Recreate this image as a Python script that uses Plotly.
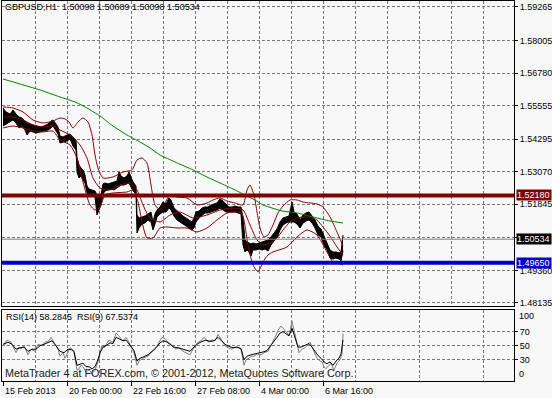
import plotly.graph_objects as go

# ---------------- data ----------------
tick_labels = ["15 Feb 2013", "20 Feb 00:00", "22 Feb 16:00", "27 Feb 08:00", "4 Mar 00:00", "6 Mar 16:00"]
tick_bars = [0, 64, 128, 192, 256, 320]

price_ticks = [1.59265, 1.58005, 1.56780, 1.55555, 1.54295, 1.53070, 1.51845, 1.50585, 1.49360, 1.48135]
price_tick_text = ["1.59265", "1.58005", "1.56780", "1.55555", "1.54295", "1.53070", "1.51845", "", "1.49360", "1.48135"]

rsi_ticks = [70, 50, 30]

# price bars (bar index, high, low)
bar_idx = [0, 3, 7, 10, 13, 16, 19, 22, 24, 27, 30, 33, 37, 41, 45, 48, 50, 53, 55, 57,
           60, 64, 67, 70, 73, 74, 76, 78, 80, 82, 84, 86, 89, 92, 94, 96, 98, 100, 102, 105,
           108, 111, 114, 116, 118, 121, 124, 126, 128, 130, 133, 134, 136, 139, 142, 145, 148, 150, 152, 154,
           157, 160, 163, 166, 168, 171, 174, 177, 180, 183, 186, 189, 191, 193, 196, 199, 202, 205, 208, 211,
           214, 217, 220, 223, 226, 229, 232, 235, 238, 240, 242, 244, 246, 248, 250, 253, 256, 259, 262, 265,
           268, 271, 274, 277, 280, 283, 286, 289, 291, 294, 297, 300, 303, 306, 309, 312, 315, 318, 321, 324,
           327, 330, 333, 336, 338, 340]
bar_high = [1.55467, 1.55317, 1.55242, 1.55392, 1.55242, 1.55129, 1.55091, 1.54978, 1.54903, 1.54866,
            1.54828, 1.54790, 1.54753, 1.54790, 1.54866, 1.54978, 1.55016, 1.54866, 1.54753, 1.54414,
            1.54377, 1.54452, 1.54490, 1.54377, 1.54264, 1.53587, 1.53324, 1.53211, 1.53136, 1.52948,
            1.52534, 1.52422, 1.52384, 1.52346, 1.52196, 1.52083, 1.52196, 1.52610, 1.52647, 1.52610,
            1.52647, 1.52685, 1.52722, 1.53061, 1.52910, 1.52835, 1.52910, 1.53061, 1.52835, 1.52685,
            1.52534, 1.51444, 1.51331, 1.51369, 1.51406, 1.51482, 1.51557, 1.51181, 1.51482, 1.51632,
            1.51745, 1.51933, 1.51858, 1.52083, 1.52008, 1.51707, 1.51594, 1.51519, 1.51406, 1.51331,
            1.51256, 1.51181, 1.51331, 1.51557, 1.51594, 1.51707, 1.51745, 1.51745, 1.51820, 1.51858,
            1.51895, 1.52046, 1.51970, 1.51858, 1.51745, 1.51745, 1.51782, 1.51745, 1.51745, 1.51331,
            1.50504, 1.50429, 1.50391, 1.50354, 1.50391, 1.50354, 1.50391, 1.50429, 1.50466, 1.50504,
            1.50617, 1.50767, 1.50918, 1.51181, 1.51331, 1.51369, 1.51406, 1.51933, 1.51557, 1.51482,
            1.51256, 1.51444, 1.51519, 1.51557, 1.51406, 1.51256, 1.51030, 1.50918, 1.50654, 1.50391,
            1.50128, 1.50053, 1.50053, 1.50015, 1.50053, 1.50689]
bar_low = [1.54790, 1.54866, 1.54941, 1.55016, 1.54903, 1.54715, 1.54790, 1.54640, 1.54452, 1.54602,
           1.54565, 1.54527, 1.54565, 1.54602, 1.54640, 1.54715, 1.54790, 1.54602, 1.54490, 1.54151,
           1.54189, 1.54226, 1.54302, 1.54038, 1.53888, 1.53061, 1.52835, 1.52910, 1.52760, 1.52647,
           1.52271, 1.52196, 1.52158, 1.52121, 1.51444, 1.51632, 1.51820, 1.52234, 1.52346, 1.52384,
           1.52422, 1.52384, 1.52459, 1.52534, 1.52572, 1.52572, 1.52610, 1.52647, 1.52497, 1.52346,
           1.52234, 1.50767, 1.50955, 1.51106, 1.51143, 1.51256, 1.51181, 1.50880, 1.51106, 1.51369,
           1.51482, 1.51557, 1.51557, 1.51707, 1.51632, 1.51406, 1.51256, 1.51181, 1.51106, 1.51030,
           1.50955, 1.50880, 1.50955, 1.51181, 1.51331, 1.51444, 1.51519, 1.51519, 1.51557, 1.51594,
           1.51632, 1.51707, 1.51632, 1.51557, 1.51557, 1.51557, 1.51557, 1.51519, 1.51482, 1.50316,
           1.50053, 1.50128, 1.50053, 1.49902, 1.50128, 1.50128, 1.50166, 1.50128, 1.50166, 1.50091,
           1.50316, 1.50466, 1.50579, 1.50880, 1.51068, 1.51143, 1.51181, 1.51181, 1.51181, 1.51106,
           1.50955, 1.51143, 1.51218, 1.51256, 1.51143, 1.50955, 1.50692, 1.50617, 1.50316, 1.50128,
           1.49827, 1.49790, 1.49827, 1.49790, 1.49714, 1.50098]

# Bollinger bands
bb_up_idx = [0, 10, 20, 30, 40, 50, 57, 62, 66, 70, 75, 80, 85, 89, 92, 95, 100, 110, 120, 129,
             134, 139, 144, 148, 152, 157, 162, 167, 174, 184, 194, 204, 210, 217, 224, 232, 240, 244, 247, 251,
             254, 257, 261, 265, 270, 275, 280, 287, 294, 300, 307, 314, 320, 327, 334, 340]
bb_up = [1.55505, 1.55467, 1.55317, 1.55016, 1.54903, 1.54978, 1.55091, 1.55054, 1.54941, 1.54715,
         1.54941, 1.55091, 1.54941, 1.54452, 1.53700, 1.53211, 1.52835, 1.52873, 1.53061, 1.53136,
         1.53512, 1.53587, 1.53399, 1.52572, 1.51820, 1.51632, 1.51895, 1.52196, 1.52121, 1.52083,
         1.51820, 1.51895, 1.52008, 1.52083, 1.51970, 1.51895, 1.51820, 1.52384, 1.52572, 1.52196,
         1.51557, 1.50955, 1.50617, 1.50692, 1.51068, 1.51519, 1.51782, 1.52008, 1.52008, 1.51933,
         1.51895, 1.51858, 1.51745, 1.51369, 1.50805, 1.50278]
bb_mid_idx = [0, 10, 20, 30, 40, 50, 57, 67, 77, 84, 90, 97, 107, 117, 127, 134, 140, 147, 157, 167,
              177, 190, 204, 217, 230, 240, 247, 254, 260, 267, 274, 280, 287, 294, 300, 307, 314, 320, 327, 334, 340]
bb_mid = [1.55129, 1.55129, 1.55016, 1.54828, 1.54753, 1.54790, 1.54640, 1.54452, 1.54076, 1.53587,
          1.52835, 1.52459, 1.52384, 1.52572, 1.52647, 1.52384, 1.51820, 1.51331, 1.51181, 1.51444,
          1.51557, 1.51331, 1.51444, 1.51632, 1.51707, 1.51632, 1.51068, 1.50504, 1.50316, 1.50391,
          1.50579, 1.50880, 1.51181, 1.51331, 1.51369, 1.51369, 1.51256, 1.50993, 1.50654, 1.50241, 1.49940]
bb_low_idx = [0, 10, 20, 30, 40, 50, 57, 67, 74, 80, 87, 92, 97, 102, 110, 124, 130, 135, 139, 144,
              150, 157, 164, 174, 184, 194, 204, 214, 224, 237, 240, 245, 250, 255, 260, 265, 270, 284, 294, 304,
              314, 324, 330, 337, 340]
bb_low = [1.54715, 1.54790, 1.54715, 1.54602, 1.54565, 1.54602, 1.54264, 1.54076, 1.53587, 1.52685,
          1.51820, 1.51632, 1.51745, 1.52196, 1.52271, 1.52309, 1.52384, 1.51933, 1.51181, 1.50579,
          1.50579, 1.50955, 1.50993, 1.50955, 1.50955, 1.50805, 1.50955, 1.51256, 1.51519, 1.51557,
          1.51406, 1.50316, 1.49564, 1.49301, 1.49677, 1.49940, 1.50053, 1.50241, 1.50617, 1.50880,
          1.50692, 1.50053, 1.49677, 1.49602, 1.49564]

# moving average (green)
ma_idx = [0, 17, 37, 57, 72, 84, 97, 110, 124, 137, 147, 157, 172, 190, 204, 217, 230, 242, 252, 260,
          269, 279, 294, 310, 327, 340]
ma_val = [1.56558, 1.56370, 1.56144, 1.55881, 1.55693, 1.55467, 1.55166, 1.54790, 1.54452, 1.54189,
          1.53963, 1.53700, 1.53437, 1.53136, 1.52873, 1.52647, 1.52422, 1.52196, 1.52008, 1.51820,
          1.51707, 1.51594, 1.51519, 1.51369, 1.51218, 1.51143]

# horizontal levels
resistance = 1.52180
support = 1.49650
last_close = 1.50534

# RSI(9) (grey)
rsi9_idx = [0, 4, 8, 11, 13, 16, 18, 21, 25, 28, 32, 35, 39, 42, 46, 48, 52, 55, 57, 60,
            62, 65, 67, 69, 71, 74, 76, 78, 80, 83, 86, 89, 92, 95, 97, 99, 101, 103, 106, 110,
            113, 115, 118, 120, 123, 126, 128, 131, 134, 136, 138, 141, 145, 148, 152, 155, 157, 159, 162, 165,
            168, 170, 173, 176, 180, 183, 187, 190, 192, 195, 198, 201, 205, 208, 212, 215, 217, 220, 222, 225,
            229, 232, 235, 238, 241, 243, 246, 248, 251, 254, 258, 261, 265, 268, 270, 273, 275, 278, 280, 283,
            286, 289, 291, 293, 296, 299, 302, 305, 307, 310, 312, 314, 317, 319, 321, 323, 326, 328, 331, 334,
            337, 339, 340]
rsi9 = [50, 58, 55, 45, 40, 48, 45, 50, 37, 45, 42, 52, 50, 55, 57, 62, 52, 45, 35, 40,
        32, 42, 47, 45, 40, 15, 17, 22, 20, 12, 16, 10, 15, 27, 40, 50, 47, 52, 58, 55,
        68, 65, 60, 57, 62, 55, 48, 40, 22, 28, 30, 33, 35, 40, 45, 52, 57, 62, 60, 55,
        52, 48, 45, 47, 42, 40, 37, 45, 50, 55, 57, 62, 55, 58, 57, 66, 62, 55, 50, 47,
        45, 48, 47, 45, 22, 30, 32, 35, 35, 38, 37, 40, 42, 50, 57, 65, 72, 78, 75, 70,
        65, 85, 70, 60, 40, 45, 47, 52, 55, 45, 38, 32, 28, 27, 20, 17, 22, 25, 15, 25,
        30, 38, 67.5]

# RSI(14) (black)
rsi14_idx = [0, 5, 9, 13, 17, 21, 25, 29, 33, 37, 41, 45, 49, 53, 57, 61, 65, 69, 71, 74,
             77, 80, 83, 86, 89, 92, 95, 97, 100, 103, 107, 110, 113, 116, 120, 123, 126, 129, 131, 134,
             137, 141, 145, 149, 153, 157, 160, 163, 167, 171, 175, 179, 183, 187, 191, 195, 199, 203, 207, 211,
             215, 218, 222, 226, 230, 234, 238, 241, 244, 248, 252, 256, 260, 264, 268, 271, 274, 277, 280, 283,
             286, 289, 292, 295, 298, 302, 306, 309, 312, 315, 318, 321, 324, 327, 330, 333, 336, 338, 340]
rsi14 = [52, 55, 52, 45, 47, 48, 42, 45, 45, 50, 52, 55, 57, 50, 42, 40, 45, 44, 42, 22,
         24, 25, 20, 20, 17, 20, 30, 40, 48, 50, 54, 53, 62, 60, 57, 58, 53, 47, 43, 28,
         32, 35, 37, 42, 47, 54, 57, 56, 52, 48, 47, 45, 43, 42, 48, 53, 56, 58, 56, 57,
         62, 58, 52, 49, 47, 48, 46, 30, 35, 37, 38, 39, 41, 43, 50, 56, 62, 68, 70, 67,
         64, 75, 63, 48, 48, 50, 53, 48, 42, 36, 32, 27, 24, 27, 22, 28, 32, 38, 58.3]

header_text = "GBPUSD,H1  1.50098 1.50689 1.50098 1.50534"
rsi_header = "RSI(14) 58.2845  RSI(9) 67.5374"
watermark = "MetaTrader 4 at FOREX.com, \u00a9 2001-2012, MetaQuotes Software Corp."

# ---------------- style ----------------
BG = "#f8f8f8"
GRID = "#7a7a7a"
DASH = "3px,2px"
FONT = "Liberation Sans"
BB_COL = "#8b0000"

fig = go.Figure()

# price bars as a black high/low band
fig.add_trace(go.Scatter(x=bar_idx, y=bar_low, mode="lines", line=dict(color="black", width=1),
                         xaxis="x", yaxis="y", hoverinfo="skip"))
fig.add_trace(go.Scatter(x=bar_idx, y=bar_high, mode="lines", line=dict(color="black", width=1),
                         fill="tonexty", fillcolor="black", xaxis="x", yaxis="y", hoverinfo="skip"))

for xs, ys in [(bb_up_idx, bb_up), (bb_mid_idx, bb_mid), (bb_low_idx, bb_low)]:
    fig.add_trace(go.Scatter(x=xs, y=ys, mode="lines", line=dict(color=BB_COL, width=1, shape="spline", smoothing=0.6),
                             xaxis="x", yaxis="y", hoverinfo="skip"))

fig.add_trace(go.Scatter(x=ma_idx, y=ma_val, mode="lines", line=dict(color="#008000", width=1, shape="spline", smoothing=0.5),
                         xaxis="x", yaxis="y", hoverinfo="skip"))

fig.add_trace(go.Scatter(x=rsi9_idx, y=rsi9, mode="lines", line=dict(color="#808080", width=1),
                         xaxis="x2", yaxis="y2", hoverinfo="skip"))
fig.add_trace(go.Scatter(x=rsi14_idx, y=rsi14, mode="lines", line=dict(color="#000000", width=1),
                         xaxis="x2", yaxis="y2", hoverinfo="skip"))

# layout geometry
W, H = 552, 398
ML, MR, MT, MB = 2, 38, 1, 17
PH = H - MT - MB
main_dom = [(H - MB - 306) / PH, 1.0]
rsi_dom = [0.0, (H - MB - 309.5) / PH]
xr = [-1, 511]

axis_common = dict(showline=True, linecolor="black", linewidth=1, mirror=True, zeroline=False)

fig.update_layout(
    width=W, height=H,
    margin=dict(l=ML, r=MR, t=MT, b=MB, pad=0),
    paper_bgcolor=BG, plot_bgcolor=BG,
    showlegend=False,
    font=dict(family=FONT, size=9, color="black"),
    xaxis=dict(domain=[0, 1], range=xr, anchor="y", showticklabels=False, ticks="",
               showgrid=True, tick0=0, dtick=32, gridcolor=GRID, griddash=DASH, gridwidth=1, **axis_common),
    yaxis=dict(domain=main_dom, range=[1.48022, 1.59490], anchor="x", side="right",
               tickmode="array", tickvals=price_ticks, ticktext=price_tick_text,
               ticks="outside", ticklen=3, tickcolor="black",
               showgrid=True, gridcolor=GRID, griddash=DASH, gridwidth=1,
               tickfont=dict(family=FONT, size=9, color="black"), **axis_common),
    xaxis2=dict(domain=[0, 1], range=xr, anchor="y2", showticklabels=False,
                tickmode="array", tickvals=tick_bars, ticks="outside", ticklen=4, tickcolor="black",
                showgrid=True, gridcolor=GRID, griddash=DASH, gridwidth=1,
                minor=dict(tickvals=[t + 32 for t in range(0, 512, 64)], showgrid=True, gridcolor=GRID,
                           griddash=DASH, gridwidth=1, ticks=""),
                **axis_common),
    yaxis2=dict(domain=rsi_dom, range=[-0.43, 101.7], anchor="x2", side="right",
                tickmode="array", tickvals=rsi_ticks, ticktext=[str(v) for v in rsi_ticks],
                ticks="outside", ticklen=3, tickcolor="black",
                showgrid=True, gridcolor=GRID, griddash=DASH, gridwidth=1,
                tickfont=dict(family=FONT, size=9, color="black"), **axis_common),
)

# horizontal levels
fig.add_shape(type="line", xref="paper", x0=0, x1=1, yref="y", y0=last_close, y1=last_close,
              line=dict(color="#808080", width=1))
fig.add_shape(type="line", xref="paper", x0=0, x1=1, yref="y", y0=resistance, y1=resistance,
              line=dict(color="#800000", width=4))
fig.add_shape(type="line", xref="paper", x0=0, x1=1, yref="y", y0=support, y1=support,
              line=dict(color="#0000cd", width=4))

ann = []
px_w = W - ML - MR
xlab = (516 - ML) / px_w
for val, bg in [(resistance, "#800000"), (last_close, "#000000"), (support, "#0000cd")]:
    ann.append(dict(x=xlab, xref="paper", y=val, yref="y", xanchor="left", yanchor="middle",
                    text="%.5f" % val, showarrow=False, bgcolor=bg, width=34, height=10, align="left",
                    borderpad=0, font=dict(family=FONT, size=9, color="white")))

# RSI 100 / 0 labels
ann.append(dict(x=(517 - ML) / px_w, xref="paper", y=92.4, yref="y2", xanchor="left", yanchor="middle",
                text="100", showarrow=False, font=dict(family=FONT, size=9, color="black")))
ann.append(dict(x=(517 - ML) / px_w, xref="paper", y=9.6, yref="y2", xanchor="left", yanchor="middle",
                text="0", showarrow=False, font=dict(family=FONT, size=9, color="black")))

# time labels
for b, t in zip(tick_bars, tick_labels):
    ann.append(dict(x=b, xref="x2", y=0, yref="paper", xanchor="left", yanchor="top", yshift=-3,
                    text=t, showarrow=False, font=dict(family=FONT, size=9, color="black")))

ann.append(dict(x=0, xref="paper", y=1, yref="paper", xanchor="left", yanchor="top", xshift=1, yshift=1,
                text=header_text, showarrow=False, font=dict(family=FONT, size=9, color="black")))
ann.append(dict(x=0, xref="paper", y=rsi_dom[1], yref="paper", xanchor="left", yanchor="top", xshift=2, yshift=0,
                text=rsi_header, showarrow=False, font=dict(family=FONT, size=9, color="black")))
ann.append(dict(x=0, xref="paper", y=0, yref="paper", xanchor="left", yanchor="bottom", xshift=1, yshift=0,
                text=watermark, showarrow=False, font=dict(family=FONT, size=10.8, color="#202020")))

fig.update_layout(annotations=ann)

fig.write_html("out.html", config={"displayModeBar": False})
